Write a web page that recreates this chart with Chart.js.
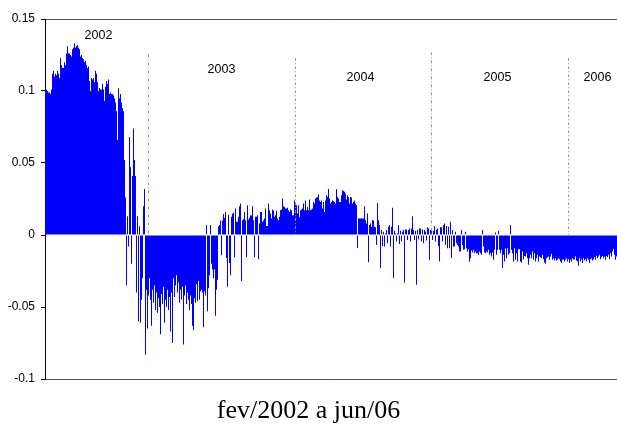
<!DOCTYPE html>
<html>
<head>
<meta charset="utf-8">
<script src="https://cdn.jsdelivr.net/npm/chart.js@4.4.1/dist/chart.umd.min.js"></script>
<style>
  html, body { margin: 0; padding: 0; background: #fff; }
  #graphContainer { width: 617px; height: 431px; }
</style>
</head>
<body>
<div id="graphContainer"><canvas id="myChart" width="617" height="431"></canvas></div>
<script>
// Daily values, one array per year
var years = ["2002", "2003", "2004", "2005", "2006"];

var ret2002 = [0.101, 0.101, 0.100, 0.099, 0.099, 0.098, 0.101, 0.112, 0.114, 0.110,
    0.112, 0.111, 0.114, 0.112, 0.109, 0.123, 0.118, 0.116, 0.116, 0.120,
    0.118, 0.126, 0.131, 0.126, 0.126, 0.125, 0.124, 0.129, 0.130, 0.133,
    0.130, 0.131, 0.132, 0.130, 0.129, 0.124, 0.125, 0.123, 0.122, 0.120,
    0.121, 0.118, 0.116, 0.117, 0.107, 0.100, 0.109, 0.108, 0.109, 0.106,
    0.114, 0.112, 0.106, 0.100, 0.102, 0.101, 0.101, 0.105, 0.101, 0.093,
    0.103, 0.107, 0.105, 0.108, 0.098, 0.099, 0.098, 0.098, 0.097, 0.095,
    0.092, 0.086, 0.066, 0.102, 0.095, 0.098, 0.092, 0.088, 0.086, 0.052,
    0.026, -0.035, 0.013, -0.008, 0.068, 0.047, -0.020, 0.041, 0.074, 0.052,
    0.041, -0.040, 0.013, -0.060, 0.006, -0.061, -0.045, -0.030, 0.020, 0.032,
    -0.083, -0.038, -0.065];

var ret2003 = [-0.042, -0.030, -0.045, -0.063, -0.038, -0.047, -0.035, -0.052, -0.040, -0.054,
    -0.044, -0.050, -0.069, -0.041, -0.048, -0.036, -0.061, -0.045, -0.050, -0.038,
    -0.052, -0.043, -0.067, -0.040, -0.075, -0.030, -0.043, -0.035, -0.028, -0.040,
    -0.033, -0.047, -0.038, -0.045, -0.036, -0.076, -0.042, -0.035, -0.048, -0.040,
    -0.045, -0.052, -0.042, -0.048, -0.063, -0.066, -0.044, -0.047, -0.034, -0.046,
    -0.032, -0.045, -0.039, -0.038, -0.040, -0.064, -0.039, -0.042, 0.007, -0.053,
    -0.037, -0.028, 0.007, -0.020, -0.024, -0.030, -0.024, -0.056, -0.038, -0.031,
    0.006, 0.007, 0.010, -0.014, 0.010, 0.0145, 0.012, 0.016, -0.016, -0.036,
    0.014, -0.0195, -0.028, 0.0126, 0.015, 0.0154, -0.0156, 0.0184, 0.0092, 0.0092,
    0.0126, 0.020, 0.0218, -0.032, 0.0103, 0.011, 0.016, 0.0103, -0.0154, 0.0207,
    0.0108, 0.012, 0.0138, 0.0135, 0.020, 0.0103, -0.0154, 0.0126, 0.0126, 0.0138,
    -0.0168, 0.008, 0.016, 0.016, 0.009, 0.0103, 0.0115, 0.0184, 0.0062, 0.0062,
    0.0218, 0.0172, 0.015, 0.0115, 0.0177, 0.0168, 0.0126, 0.0138, 0.0168, 0.0115,
    0.0103, 0.0126, 0.0172, 0.0177, 0.0253, 0.020, 0.0195, 0.0184, 0.0184, 0.019,
    0.0172, 0.016, 0.0177, 0.0172, 0.0138, 0.0138, 0.024];

var ret2004 = [0.0218, 0.0207, 0.015, 0.0207, 0.0126, 0.0172, 0.0177, 0.0184, 0.0218, 0.0172,
    0.024, 0.0172, 0.0195, 0.0172, 0.0246, 0.0172, 0.0177, 0.0184, 0.023, 0.0218,
    0.0253, 0.026, 0.0264, 0.0283, 0.024, 0.023, 0.024, 0.0184, 0.023, 0.016,
    0.024, 0.0276, 0.0264, 0.032, 0.0253, 0.0218, 0.023, 0.024, 0.0235, 0.023,
    0.0218, 0.032, 0.0264, 0.0253, 0.023, 0.023, 0.0276, 0.031, 0.0305, 0.030,
    0.0287, 0.0246, 0.0276, 0.0264, 0.0218, 0.0264, 0.026, 0.0218, 0.023, 0.024,
    0.0218, 0.0207, -0.009, 0.0115, 0.0115, 0.0115, 0.0115, 0.0115, 0.0115, 0.020,
    0.0103, 0.008, 0.015, -0.019, 0.0069, 0.008, 0.0057, 0.0103, 0.0103, 0.0057,
    0.0053, -0.0069, 0.0223, 0.0103, 0.0069, -0.023, 0.0034, -0.0076, 0.0023, -0.008,
    0.0011, 0.0034, -0.0057, 0.0057, 0.0069, -0.008, 0.0057, 0.019, -0.030, 0.003,
    0.0011, -0.0046, 0.0011, 0.0069, -0.0062, 0.003, -0.0046, 0.0023, 0.0034, -0.0329,
    0.0039, 0.0039, -0.0034, 0.0034, 0.0046, -0.0046, 0.0046, 0.0131, 0.0034, -0.0034,
    0.003, -0.0345, 0.0034, -0.003, 0.0046, 0.0046, -0.0046, 0.0039, -0.0057, 0.0034,
    0.0023, -0.0039, 0.0053, 0.0046, -0.0172, 0.0034];

var ret2005 = [0.0034, -0.0034, 0.003, 0.0062, -0.0046, 0.0034, 0.0046, -0.0076, -0.0184, 0.0053,
    0.0053, -0.0046, 0.0069, 0.008, -0.0069, 0.0062, -0.0092, 0.0057, -0.0092, 0.0092,
    -0.016, 0.0034, -0.008, -0.008, 0.0023, -0.0057, -0.0069, -0.008, -0.0115, -0.0115,
    0.0034, -0.0069, -0.0103, -0.0099, 0.0023, -0.0092, -0.0115, -0.0099, -0.0184, -0.0161,
    -0.0108, -0.0122, -0.0103, -0.0126, -0.0115, -0.0126, -0.0126, -0.0138, -0.0115, -0.0126,
    -0.0138, 0.0034, -0.008, -0.0122, -0.0126, -0.0115, -0.0122, -0.0103, -0.0138, -0.0126,
    -0.0149, -0.0122, -0.0172, -0.0103, 0.0018, -0.0138, -0.0103, 0.0028, -0.0103, -0.0126,
    -0.0103, -0.023, -0.0138, -0.0184, -0.0092, -0.0161, -0.0092, -0.0138, -0.0126, 0.0069,
    -0.0103, -0.0126, -0.0184, -0.0092, -0.0172, -0.0126, -0.0184, -0.0099, -0.0099, -0.0184,
    -0.0191, -0.0115, -0.0168, -0.0145, -0.0149, -0.0126, -0.0161, -0.0207, -0.0161, -0.0138,
    -0.0161, -0.0115, -0.0172, -0.0126, -0.0184, -0.0161, -0.0138, -0.0184, -0.0149, -0.0154,
    -0.0161, -0.0138, -0.0168, -0.0191, -0.020, -0.0161, -0.0154, -0.0149, -0.0172, -0.0149,
    -0.0131, -0.0172, -0.0161, -0.0177, -0.0161, -0.0177, -0.0172, -0.0161, -0.0168, -0.0184,
    -0.0195, -0.0172, -0.0168, -0.0184, -0.0172, -0.0161, -0.0184];

var ret2006 = [-0.0168, -0.0195, -0.0172, -0.0184, -0.0161, -0.0172, -0.0168, -0.0149, -0.0177, -0.0184,
    -0.0214, -0.0161, -0.0184, -0.0168, -0.0195, -0.0161, -0.0177, -0.0168, -0.0184, -0.0161,
    -0.0172, -0.0195, -0.0168, -0.0161, -0.0177, -0.0168, -0.0154, -0.0172, -0.0145, -0.0161,
    -0.0149, -0.0138, -0.0168, -0.0154, -0.0145, -0.0161, -0.0149, -0.0172, -0.0145, -0.0154,
    -0.0138, -0.0168, -0.0126, -0.0149, -0.0115, -0.0099, -0.0138, -0.0172, -0.0149];

var yTicks = [0.15, 0.1, 0.05, 0, -0.05, -0.1];
var titleText = "fev/2002 a jun/06";

// Where each year name sits: days into the year, and height on the y scale
var yearTextPos = [[53, 0.1386], [73, 0.1152], [65, 0.109], [66, 0.109], [29, 0.109]];
// Top of the dotted separator drawn at the start of each year
var yearLineTop = [null, 0.1255, 0.1228, 0.1269, 0.1228];

var series = [ret2002, ret2003, ret2004, ret2005, ret2006];
var values = [];
var labels = [];
for (var i = 0; i < series.length; i++) {
    for (var j = 0; j < series[i].length; j++) {
        values.push(series[i][j]);
        labels.push(years[i]);
    }
}

/*
 * Draws the dotted year separators and the year names.
 */
var yearMarks = {
    id: 'yearMarks',
    afterDatasetsDraw: function(chart) {
        var ctx = chart.ctx;
        var xs = chart.scales.x;
        var ys = chart.scales.y;
        var start = 0;
        ctx.save();
        for (var i = 0; i < series.length; i++) {
            if (i > 0) {
                var bx = Math.round((xs.getPixelForValue(start - 1) + xs.getPixelForValue(start)) / 2) + 0.5;
                ctx.strokeStyle = '#9a9a9a';
                ctx.lineWidth = 1;
                ctx.setLineDash([3, 2, 1, 2]);
                ctx.beginPath();
                ctx.moveTo(bx, ys.getPixelForValue(yearLineTop[i]));
                ctx.lineTo(bx, ys.getPixelForValue(0));
                ctx.stroke();
                ctx.setLineDash([]);
            }
            ctx.fillStyle = '#000';
            ctx.font = '12.5px "Liberation Sans", Arial, sans-serif';
            ctx.textAlign = 'center';
            ctx.textBaseline = 'middle';
            ctx.fillText(years[i], xs.getPixelForValue(start + yearTextPos[i][0]), ys.getPixelForValue(yearTextPos[i][1]));
            start += series[i].length;
        }
        ctx.restore();
    }
};

var ctx = document.getElementById("myChart").getContext("2d");
new Chart(ctx, {
    type: 'bar',
    data: {
        labels: labels,
        datasets: [{
            data: values,
            backgroundColor: '#0000ff',
            borderWidth: 0,
            inflateAmount: 0,
            barPercentage: 1,
            categoryPercentage: 1
        }]
    },
    options: {
        responsive: false,
        animation: false,
        layout: { padding: { top: 19, right: 0, bottom: 0, left: 0 } },
        plugins: {
            legend: { display: false },
            tooltip: { enabled: false },
            title: {
                display: true,
                text: titleText,
                position: 'bottom',
                color: '#000',
                font: { family: '"Liberation Serif", "Times New Roman", serif', size: 26, weight: 'normal', lineHeight: '30px' },
                padding: { top: 17, bottom: 5 }
            }
        },
        scales: {
            x: { display: false },
            y: {
                min: -0.1,
                max: 0.15,
                z: 1,
                afterFit: function(scale) { scale.width = 45; },
                afterBuildTicks: function(scale) {
                    scale.ticks = yTicks.map(function(v) { return { value: v }; });
                },
                ticks: {
                    padding: 6,
                    color: '#000',
                    font: { family: '"Liberation Sans", Arial, sans-serif', size: 12 },
                    callback: function(v) { return String(+v.toFixed(2)); }
                },
                grid: {
                    drawOnChartArea: true,
                    tickLength: 4,
                    tickColor: '#000',
                    color: function(c) {
                        if (c.tick && (c.tick.value === 0.15 || c.tick.value === -0.1)) return '#555';
                        return 'rgba(0,0,0,0)';
                    }
                },
                border: { display: true, color: '#000', width: 1 }
            }
        }
    },
    plugins: [yearMarks]
});
</script>
</body>
</html>
